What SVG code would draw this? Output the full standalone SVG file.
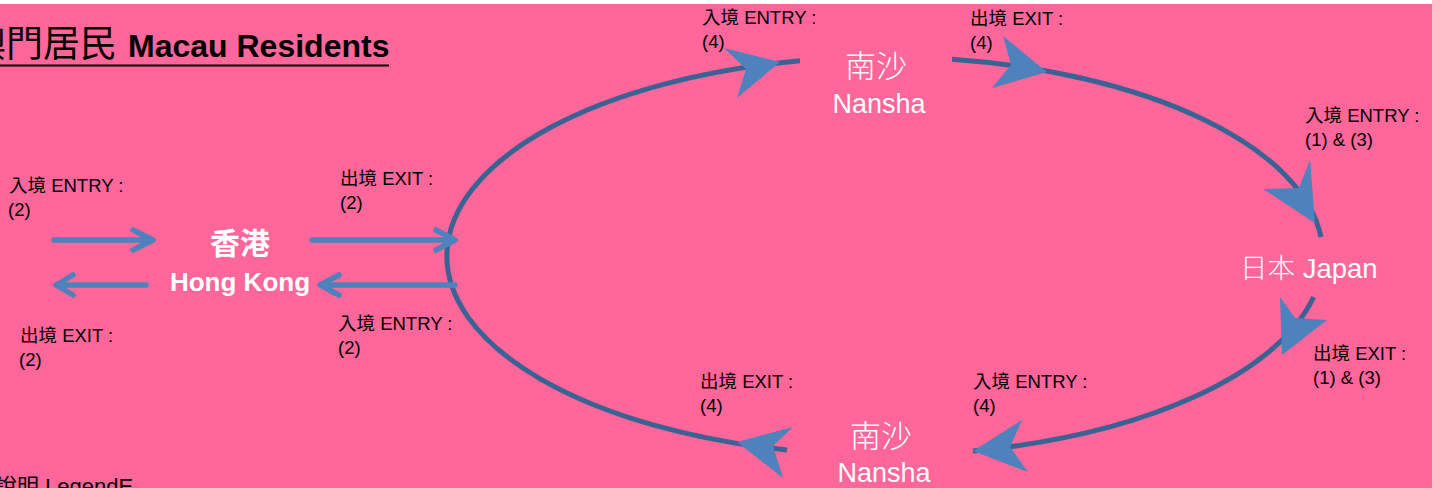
<svg xmlns="http://www.w3.org/2000/svg" width="1432" height="488" viewBox="0 0 1432 488">
<style>
.bg{fill:#FF6699}
.ring{fill:none;stroke:#3A6293;stroke-width:5}
.head{fill:#4F81BD;stroke:none}
.straight{fill:none;stroke:#4F81BD;stroke-width:5.5;stroke-linecap:round;stroke-linejoin:round}
.lbl{font-family:"Liberation Sans","Noto Sans CJK TC",sans-serif;font-size:18.5px;fill:#000}
.cjk{font-family:"Noto Sans CJK TC",sans-serif}
.node{font-family:"Liberation Sans","Noto Sans CJK TC",sans-serif;fill:#fff;text-anchor:middle}
</style>
<rect x="0" y="0" width="1432" height="488" fill="#ffffff"/>
<rect class="bg" x="0" y="4" width="1432" height="484"/>

<g id="title">
<text y="57" fill="#000"><tspan x="-31" class="cjk" font-size="37">澳門居民</tspan><tspan x="128" font-family="Liberation Sans, sans-serif" font-weight="bold" font-size="32">Macau Residents</tspan></text>
<line x1="0" y1="65.5" x2="389" y2="65.5" stroke="#000" stroke-width="2"/>
</g>

<g id="legend">
<text x="-5" y="494" font-family="Liberation Sans, 'Noto Sans CJK TC', sans-serif" font-size="22" fill="#000">說明 LegendE</text>
</g>

<g id="connectors">
<path class="ring" d="M952 59.3 A438 199 0 0 1 1321 237"/>
<path class="ring" d="M1313.6 297 A438 199 0 0 1 973 450.9"/>
<path class="ring" d="M787 450 A438 199 0 0 1 800 60.8"/>
<polygon class="head" points="780,62 724,48 746,69 737,98"/>
<polygon class="head" points="1047,72 1003,36 1011,65 992,88"/>
<polygon class="head" points="1315,223 1310,160 1299,188 1263,189"/>
<polygon class="head" points="1282,355 1280,297 1295,318 1327,320"/>
<polygon class="head" points="973,451 1022,420 1010,447 1028,472"/>
<polygon class="head" points="737,442 793,427 773,446 783,478"/>
<path class="straight" d="M54 240 H152 M133 230 L153 240 L133 250"/>
<path class="straight" d="M146 285 H57 M73 275 L56 285 L73 295"/>
<path class="straight" d="M312 240 H454 M436 230 L455 240 L436 250"/>
<path class="straight" d="M455 285 H321 M339 275 L320 285 L339 295"/>
</g>

<g id="hongkong">
<text class="node" x="240" y="254" font-size="30" font-weight="bold"><tspan class="cjk">香港</tspan></text>
<text class="node" x="240" y="291" font-size="26" font-weight="bold">Hong Kong</text>
</g>

<g id="nansha-top">
<text class="node" x="876" y="77" font-size="31"><tspan class="cjk" font-weight="300">南沙</tspan></text>
<text class="node" x="879" y="113" font-size="27">Nansha</text>
</g>

<g id="japan">
<text x="1240" y="278" font-family="Liberation Sans, 'Noto Sans CJK TC', sans-serif" font-size="27.5" fill="#fff"><tspan class="cjk" font-weight="300">日本</tspan> Japan</text>
</g>

<g id="nansha-bottom">
<text class="node" x="881" y="447" font-size="31"><tspan class="cjk" font-weight="300">南沙</tspan></text>
<text class="node" x="884" y="482" font-size="27">Nansha</text>
</g>

<g id="labels">
<text class="lbl" x="9" y="192">入境 ENTRY :<tspan x="8" dy="24">(2)</tspan></text>
<text class="lbl" x="340" y="185">出境 EXIT :<tspan x="340" dy="24">(2)</tspan></text>
<text class="lbl" x="20" y="342">出境 EXIT :<tspan x="19" dy="24">(2)</tspan></text>
<text class="lbl" x="338" y="330">入境 ENTRY :<tspan x="338" dy="24">(2)</tspan></text>
<text class="lbl" x="702" y="24">入境 ENTRY :<tspan x="702" dy="24">(4)</tspan></text>
<text class="lbl" x="970" y="25">出境 EXIT :<tspan x="970" dy="24">(4)</tspan></text>
<text class="lbl" x="1305" y="122">入境 ENTRY :<tspan x="1305" dy="24">(1) &amp; (3)</tspan></text>
<text class="lbl" x="1313" y="360">出境 EXIT :<tspan x="1313" dy="24">(1) &amp; (3)</tspan></text>
<text class="lbl" x="700" y="388">出境 EXIT :<tspan x="700" dy="24">(4)</tspan></text>
<text class="lbl" x="973" y="388">入境 ENTRY :<tspan x="973" dy="24">(4)</tspan></text>
</g>
</svg>
